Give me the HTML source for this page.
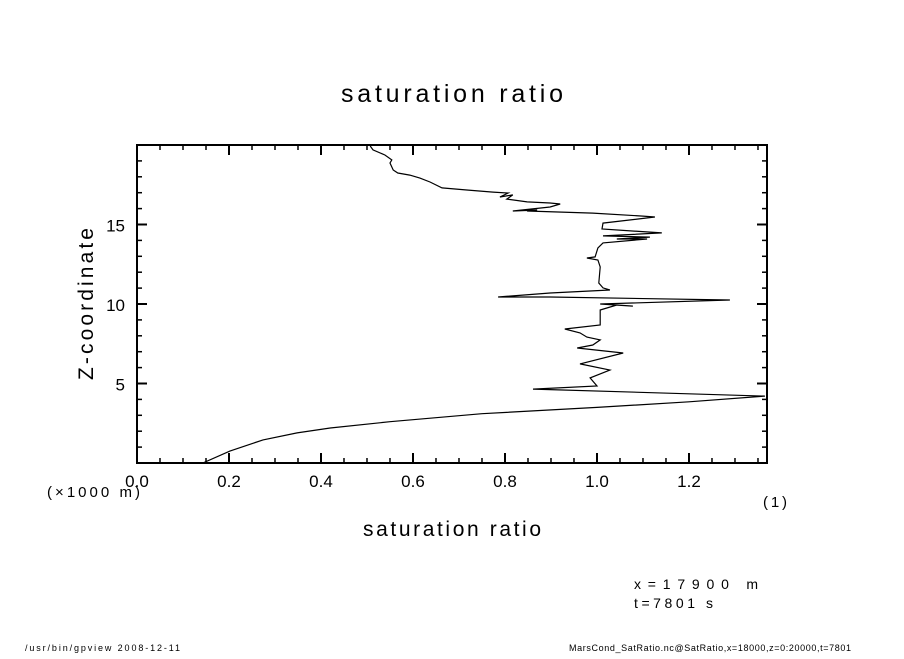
<!DOCTYPE html>
<html><head><meta charset="utf-8"><style>
html,body{margin:0;padding:0;background:#fff;}
svg text{font-family:"Liberation Sans",sans-serif;fill:#000;}
</style></head><body>
<svg width="904" height="654" viewBox="0 0 904 654">
<text x="341" y="102" font-size="25" textLength="222" lengthAdjust="spacing">saturation ratio</text>
<text x="363" y="536" font-size="21" textLength="178" lengthAdjust="spacing">saturation ratio</text>
<text transform="translate(93,380) rotate(-90)" font-size="21" textLength="152" lengthAdjust="spacing">Z-coordinate</text>
<text x="47" y="497" font-size="15" textLength="93" lengthAdjust="spacing">(×1000 m)</text>
<text x="763" y="507" font-size="15" textLength="24" lengthAdjust="spacing">(1)</text>
<text x="634" y="589" font-size="14" textLength="124" lengthAdjust="spacing">x=17900  m</text>
<text x="634" y="608" font-size="14" textLength="79" lengthAdjust="spacing">t=7801  s</text>
<text x="25" y="651" font-size="9" textLength="155" lengthAdjust="spacing">/usr/bin/gpview   2008-12-11</text>
<text x="569" y="651" font-size="9" textLength="282" lengthAdjust="spacing">MarsCond_SatRatio.nc@SatRatio,x=18000,z=0:20000,t=7801</text>
<g id="axes"></g>
<defs><clipPath id="pc"><rect x="137" y="145" width="630" height="318"/></clipPath></defs>
<path id="line" fill="none" stroke="#000" stroke-width="1.2" clip-path="url(#pc)"/>
</svg>
<script>
const satRatio=[0.507,0.513,0.539,0.554,0.550,0.557,0.567,0.593,0.615,0.637,0.663,0.717,0.774,0.807,0.789,0.817,0.804,0.848,0.898,0.920,0.898,0.817,0.870,0.848,0.991,1.100,1.126,1.013,1.011,1.141,1.013,1.115,1.043,1.109,1.013,1.002,0.996,0.978,1.002,1.007,1.004,1.013,1.028,0.898,0.785,0.898,1.289,1.007,1.078,1.043,1.007,1.007,0.930,0.963,0.978,1.007,0.991,0.957,1.057,0.963,1.028,0.985,1.000,0.861,1.365,1.2,1.0,0.75,0.55,0.42,0.348,0.274,0.202,0.143];
const zKm=[19.94,19.69,19.37,19.06,18.87,18.43,18.24,18.11,17.92,17.67,17.30,17.17,17.04,16.98,16.73,16.86,16.60,16.42,16.35,16.29,16.10,15.85,15.91,15.85,15.72,15.53,15.47,15.09,14.72,14.47,14.28,14.21,14.09,14.09,13.84,13.52,12.96,12.89,12.77,12.33,11.32,11.01,10.88,10.69,10.44,10.44,10.25,10.00,9.87,9.94,9.62,8.68,8.43,8.18,7.92,7.74,7.42,7.23,6.92,6.23,5.85,5.35,4.84,4.65,4.21,3.85,3.5,3.1,2.6,2.2,1.89,1.45,0.75,0.0];
const xTicks=[0.0,0.2,0.4,0.6,0.8,1.0,1.2];
const xTickLabels=["0.0","0.2","0.4","0.6","0.8","1.0","1.2"];
const yTicks=[5,10,15];
const yTickLabels=["5","10","15"];
const X0=137,X1=767,Y0=463,Y1=145,xmin=0,xmax=1.3696,ymin=0,ymax=20;
const sx=v=>X0+(v-xmin)/(xmax-xmin)*(X1-X0);
const sy=v=>Y0-(v-ymin)/(ymax-ymin)*(Y0-Y1);
const NS="http://www.w3.org/2000/svg";
const g=document.getElementById('axes');
function mk(t,a){const e=document.createElementNS(NS,t);for(const k in a)e.setAttribute(k,a[k]);g.appendChild(e);return e;}
const fr=mk('rect',{x:X0,y:Y1,width:X1-X0,height:Y0-Y1,fill:'none',stroke:'#000','stroke-width':2});


for(let i=0;i*0.05<=xmax;i++){const v=i*0.05,x=sx(v),L=(i%4===0)?10:5;
 mk('line',{x1:x,y1:Y0,x2:x,y2:Y0-L,stroke:'#000','stroke-width':L>5?2:1.5});
 mk('line',{x1:x,y1:Y1,x2:x,y2:Y1+L,stroke:'#000','stroke-width':L>5?2:1.5});}
for(let v=1;v<20;v++){const y=sy(v),L=(v%5===0)?10:5;
 mk('line',{x1:X0,y1:y,x2:X0+L,y2:y,stroke:'#000','stroke-width':L>5?2:1.5});
 mk('line',{x1:X1,y1:y,x2:X1-L,y2:y,stroke:'#000','stroke-width':L>5?2:1.5});}
xTicks.forEach((v,i)=>{const t=mk('text',{x:sx(v),y:487,'font-size':17,'text-anchor':'middle'});t.textContent=xTickLabels[i];
 
 });
yTicks.forEach((v,i)=>{const t=mk('text',{x:125,y:sy(v)+7,'font-size':17,'text-anchor':'end'});t.textContent=yTickLabels[i];
 
 });
document.getElementById('line').setAttribute('d',satRatio.map((v,i)=>(i?'L':'M')+sx(v).toFixed(1)+','+sy(zKm[i]).toFixed(1)).join(''));
</script>
</body></html>
